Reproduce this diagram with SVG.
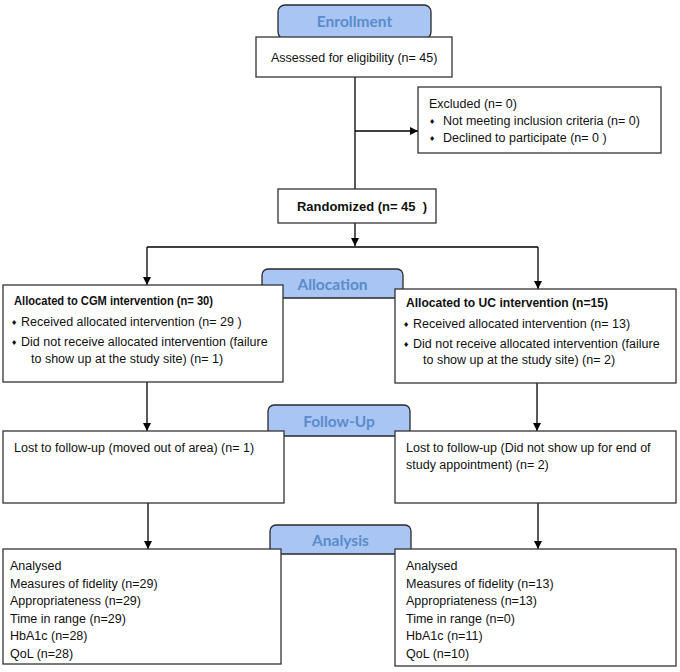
<svg xmlns="http://www.w3.org/2000/svg" width="680" height="672" viewBox="0 0 680 672">
<defs>
<marker id="ah" markerWidth="8" markerHeight="8" refX="8" refY="4" orient="auto" markerUnits="userSpaceOnUse">
<path d="M0,0 L8,4 L0,8 z" fill="#000"/>
</marker>
<style>
.box{fill:#fff;stroke:#333;stroke-width:1.3}
.pill{fill:#a8c5f4;stroke:#2a2a2a;stroke-width:1.3}
.pt{font-family:"Lato","Open Sans",sans-serif;font-weight:bold;font-size:15.5px;fill:#5a8ccb;text-anchor:middle}
.t{font-family:"Liberation Sans",Arial,sans-serif;font-size:12.5px;fill:#111}
.b{font-weight:bold;font-size:12px}
.bu{font-family:"DejaVu Sans",sans-serif;font-size:7px;fill:#111}
.ln{stroke:#000;stroke-width:1.3;fill:none}
.ar{stroke:#000;stroke-width:1.3;fill:none;marker-end:url(#ah)}
</style>
</defs>
<rect width="680" height="672" fill="#fff"/>
<g id="connectors">
<path class="ln" d="M355,77 V189"/>
<path class="ar" d="M355,131 H418"/>
<path class="ar" d="M355,223 V246"/>
<path class="ln" d="M147,247 H538"/>
<path class="ar" d="M147,247 V285"/>
<path class="ar" d="M538,247 V289"/>
<path class="ar" d="M147,382 V431"/>
<path class="ar" d="M537,383 V431"/>
<path class="ar" d="M148,503 V549"/>
<path class="ar" d="M538,503 V549"/>
</g>
<g id="enrollment">
<rect class="pill" x="278" y="5" width="153" height="34" rx="7"/>
<text class="pt" x="354.5" y="27">Enrollment</text>
</g>
<g id="assessed">
<rect class="box" x="256" y="37" width="196" height="40"/>
<text class="t" x="271" y="61.5">Assessed for eligibility (n= 45)</text>
</g>
<g id="excluded">
<rect class="box" x="418" y="87" width="243" height="66"/>
<text class="t" x="429" y="108">Excluded (n= 0)</text>
<text class="bu" x="429" y="124">♦</text>
<text class="t" x="443" y="125">Not meeting inclusion criteria (n= 0)</text>
<text class="bu" x="429" y="141">♦</text>
<text class="t" x="443" y="142">Declined to participate (n= 0 )</text>
</g>
<g id="randomized">
<rect class="box" x="278" y="189" width="158" height="34"/>
<text class="t b" x="297" y="211" textLength="130" lengthAdjust="spacingAndGlyphs" xml:space="preserve">Randomized (n= 45  )</text>
</g>
<g id="allocation">
<rect class="pill" x="262" y="269" width="141" height="29" rx="6"/>
<text class="pt" x="332.5" y="289.5">Allocation</text>
</g>
<g id="cgm">
<rect class="box" x="3" y="285" width="280" height="97"/>
<text class="t b" x="14" y="304.5" textLength="199" lengthAdjust="spacingAndGlyphs">Allocated to CGM intervention (n= 30)</text>
<text class="bu" x="11" y="325">♦</text>
<text class="t" x="21" y="326">Received allocated intervention (n= 29 )</text>
<text class="bu" x="11" y="345">♦</text>
<text class="t" x="21" y="346">Did not receive allocated intervention (failure</text>
<text class="t" x="31" y="362.5">to show up at the study site) (n= 1)</text>
</g>
<g id="uc">
<rect class="box" x="395" y="289" width="281" height="94"/>
<text class="t b" x="406" y="307" textLength="202" lengthAdjust="spacingAndGlyphs">Allocated to UC intervention (n=15)</text>
<text class="bu" x="403" y="327">♦</text>
<text class="t" x="413" y="328">Received allocated intervention (n= 13)</text>
<text class="bu" x="403" y="347">♦</text>
<text class="t" x="413" y="348">Did not receive allocated intervention (failure</text>
<text class="t" x="423" y="364">to show up at the study site) (n= 2)</text>
</g>
<g id="followup">
<rect class="pill" x="268" y="405" width="142" height="31" rx="6"/>
<text class="pt" x="339" y="426.5">Follow-Up</text>
</g>
<g id="lost-cgm">
<rect class="box" x="3" y="431" width="281" height="72"/>
<text class="t" x="14" y="452">Lost to follow-up (moved out of area) (n= 1)</text>
</g>
<g id="lost-uc">
<rect class="box" x="395" y="431" width="281" height="72"/>
<text class="t" x="406" y="452">Lost to follow-up (Did not show up for end of</text>
<text class="t" x="406" y="469">study appointment) (n= 2)</text>
</g>
<g id="analysis">
<rect class="pill" x="270" y="525" width="141" height="29" rx="6"/>
<text class="pt" x="340.5" y="545.5">Analysis</text>
</g>
<g id="an-cgm">
<rect class="box" x="3" y="549" width="278" height="115"/>
<text class="t" x="10" y="570">Analysed</text>
<text class="t" x="10" y="587.5">Measures of fidelity (n=29)</text>
<text class="t" x="10" y="605">Appropriateness (n=29)</text>
<text class="t" x="10" y="622.5">Time in range (n=29)</text>
<text class="t" x="10" y="640">HbA1c (n=28)</text>
<text class="t" x="10" y="657.5">QoL (n=28)</text>
</g>
<g id="an-uc">
<rect class="box" x="395" y="549" width="281" height="117"/>
<text class="t" x="406" y="570">Analysed</text>
<text class="t" x="406" y="587.5">Measures of fidelity (n=13)</text>
<text class="t" x="406" y="605">Appropriateness (n=13)</text>
<text class="t" x="406" y="622.5">Time in range (n=0)</text>
<text class="t" x="406" y="640">HbA1c (n=11)</text>
<text class="t" x="406" y="657.5">QoL (n=10)</text>
</g>
</svg>
